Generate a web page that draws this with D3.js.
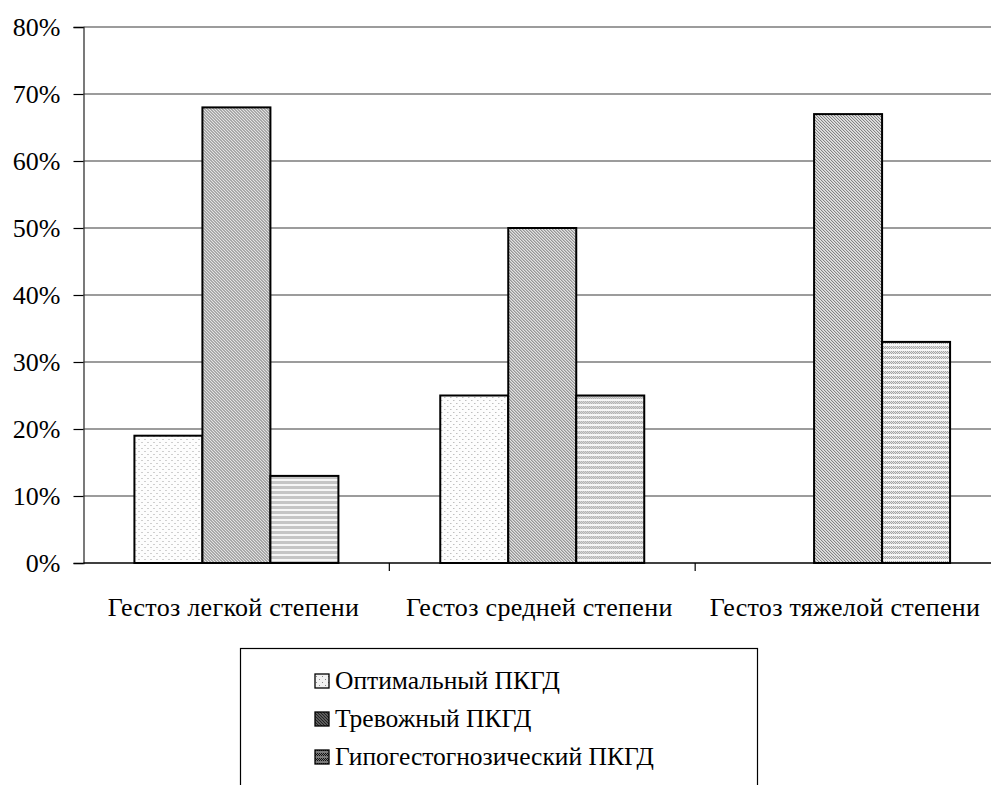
<!DOCTYPE html>
<html>
<head>
<meta charset="utf-8">
<script src="https://cdn.jsdelivr.net/npm/d3@7"></script>
<style>
  html, body { margin: 0; padding: 0; background: #fff; }
  svg { display: block; }
  svg text { font-family: "Liberation Serif", "Times New Roman", "DejaVu Serif", serif; }
</style>
</head>
<body>
<div id="chart"></div>
<script>
// Categories (degree of gestosis) and the share of each ПКГД type
const categories = ["Гестоз легкой степени", "Гестоз средней степени", "Гестоз тяжелой степени"];
const seriesNames = ["Оптимальный ПКГД", "Тревожный ПКГД", "Гипогестогнозический ПКГД"];
const optimal = [19, 25, 0];
const anxious = [68, 50, 67];
const hypo = [13, 25, 33];
const yTicks = [0, 10, 20, 30, 40, 50, 60, 70, 80];

const seriesValues = [optimal, anxious, hypo];
const patternIds = ["pat-dots", "pat-diag", "pat-wave"];
const legendPatternIds = ["lpat-dots", "lpat-diag", "lpat-wave"];
const SERIF = "'Liberation Serif', 'Times New Roman', 'DejaVu Serif', serif";

const W = 991, H = 785;
const margin = { left: 83.5, top: 27 };
const plotRight = 1001;
const baseline = 563; // y of 0%

const svg = d3.select("#chart").append("svg")
  .attr("width", W).attr("height", H);

// ---- fill patterns ----
const defs = svg.append("defs");

function dotsPattern(id, bg, dot) {
  const p = defs.append("pattern").attr("id", id)
    .attr("patternUnits", "userSpaceOnUse").attr("width", 6).attr("height", 6);
  p.append("rect").attr("width", 6).attr("height", 6).attr("fill", bg);
  p.append("rect").attr("x", 1).attr("y", 1).attr("width", 1).attr("height", 1).attr("fill", dot);
  p.append("rect").attr("x", 4).attr("y", 4).attr("width", 1).attr("height", 1).attr("fill", dot);
}
function diagPattern(id, bg, ink, w) {
  const p = defs.append("pattern").attr("id", id)
    .attr("patternUnits", "userSpaceOnUse").attr("width", 3).attr("height", 3);
  p.append("rect").attr("width", 3).attr("height", 3).attr("fill", bg);
  p.append("path").attr("d", "M-1,-1 L4,4 M-1,2 L1,4 M2,-1 L4,1")
    .attr("stroke", ink).attr("stroke-width", w).attr("fill", "none");
}
function wavePattern(id, bg, ink) {
  const p = defs.append("pattern").attr("id", id)
    .attr("patternUnits", "userSpaceOnUse").attr("width", 4).attr("height", 5);
  p.append("rect").attr("width", 4).attr("height", 5).attr("fill", bg);
  [[0, 1], [2, 1], [1, 2], [3, 2], [0, 3], [2, 3]].forEach(([x, y]) => {
    p.append("rect").attr("x", x).attr("y", y).attr("width", 1).attr("height", 1).attr("fill", ink);
  });
}
dotsPattern("pat-dots", "#fdfdfd", "#a0a0a0");
diagPattern("pat-diag", "#e2e2e2", "#707070", 1);
wavePattern("pat-wave", "#f6f6f6", "#939393");
dotsPattern("lpat-dots", "#f2f2f2", "#8a8a8a");
diagPattern("lpat-diag", "#8c8c8c", "#222", 1.3);
wavePattern("lpat-wave", "#7a7a7a", "#111");

// ---- scales ----
const y = d3.scaleLinear().domain([0, 80]).range([baseline, margin.top]);
const x0 = d3.scaleBand().domain(categories).range([margin.left, plotRight]).padding(0);
const innerWidth = x0.bandwidth() * 0.667;
const x1 = d3.scaleBand().domain(d3.range(seriesNames.length))
  .range([(x0.bandwidth() - innerWidth) / 2, (x0.bandwidth() + innerWidth) / 2]).padding(0);

// ---- gridlines ----
svg.append("g").selectAll("line")
  .data(yTicks.filter(t => t > 0))
  .join("line")
  .attr("x1", margin.left).attr("x2", W)
  .attr("y1", d => y(d)).attr("y2", d => y(d))
  .attr("stroke", "#3a3a3a").attr("stroke-width", 1.2);

// ---- bars ----
const groups = svg.append("g").selectAll("g")
  .data(categories)
  .join("g")
  .attr("transform", d => `translate(${x0(d)},0)`);

groups.selectAll("rect")
  .data((c, ci) => seriesValues.map((vals, si) => ({ si, v: vals[ci] })).filter(d => d.v > 0))
  .join("rect")
  .attr("x", d => x1(d.si))
  .attr("width", x1.bandwidth())
  .attr("y", d => y(d.v))
  .attr("height", d => y(0) - y(d.v))
  .attr("fill", d => `url(#${patternIds[d.si]})`)
  .attr("stroke", "#000").attr("stroke-width", 2);

// ---- y axis ----
const yAxis = d3.axisLeft(y).tickValues(yTicks).tickFormat(d => d + "%")
  .tickSize(10).tickPadding(13);
const gy = svg.append("g").attr("transform", `translate(${margin.left},0)`).call(yAxis);
gy.attr("font-family", null).attr("font-size", null);
gy.select(".domain").attr("stroke", "#333").attr("stroke-width", 1.3);
gy.selectAll(".tick line").attr("stroke", "#000").attr("stroke-width", 1.2);
gy.selectAll(".tick text")
  .style("font-family", SERIF)
  .attr("font-size", 26).attr("fill", "#000");

// ---- x axis (ticks at category boundaries) ----
const gx = svg.append("g");
gx.append("line")
  .attr("x1", margin.left).attr("x2", W)
  .attr("y1", y(0)).attr("y2", y(0))
  .attr("stroke", "#000").attr("stroke-width", 1.3);
gx.selectAll("line.sep")
  .data(categories.slice(1))
  .join("line").attr("class", "sep")
  .attr("x1", d => x0(d)).attr("x2", d => x0(d))
  .attr("y1", y(0)).attr("y2", y(0) + 8)
  .attr("stroke", "#000").attr("stroke-width", 1.2);
gx.selectAll("text")
  .data(categories)
  .join("text")
  .attr("x", d => x0(d) + x0.bandwidth() / 2 - 3)
  .attr("y", y(0) + 53)
  .attr("text-anchor", "middle")
  .style("font-family", SERIF)
  .style("letter-spacing", "0.3px")
  .attr("font-size", 26)
  .attr("fill", "#000")
  .text(d => d);

// ---- legend ----
const lg = svg.append("g");
lg.append("rect")
  .attr("x", 240.5).attr("y", 648.5).attr("width", 517).attr("height", 200)
  .attr("fill", "#fff").attr("stroke", "#000").attr("stroke-width", 1.2);
const items = lg.selectAll("g.item")
  .data(seriesNames)
  .join("g").attr("class", "item")
  .attr("transform", (d, i) => `translate(315, ${681 + i * 38})`);
items.append("rect")
  .attr("x", 0).attr("y", -7).attr("width", 14).attr("height", 14)
  .attr("fill", (d, i) => `url(#${legendPatternIds[i]})`)
  .attr("stroke", "#000").attr("stroke-width", 1.3);
items.append("text")
  .attr("x", 20).attr("y", 8)
  .style("font-family", SERIF)
  .attr("font-size", 25.5).attr("fill", "#000")
  .text(d => d);
</script>
</body>
</html>
